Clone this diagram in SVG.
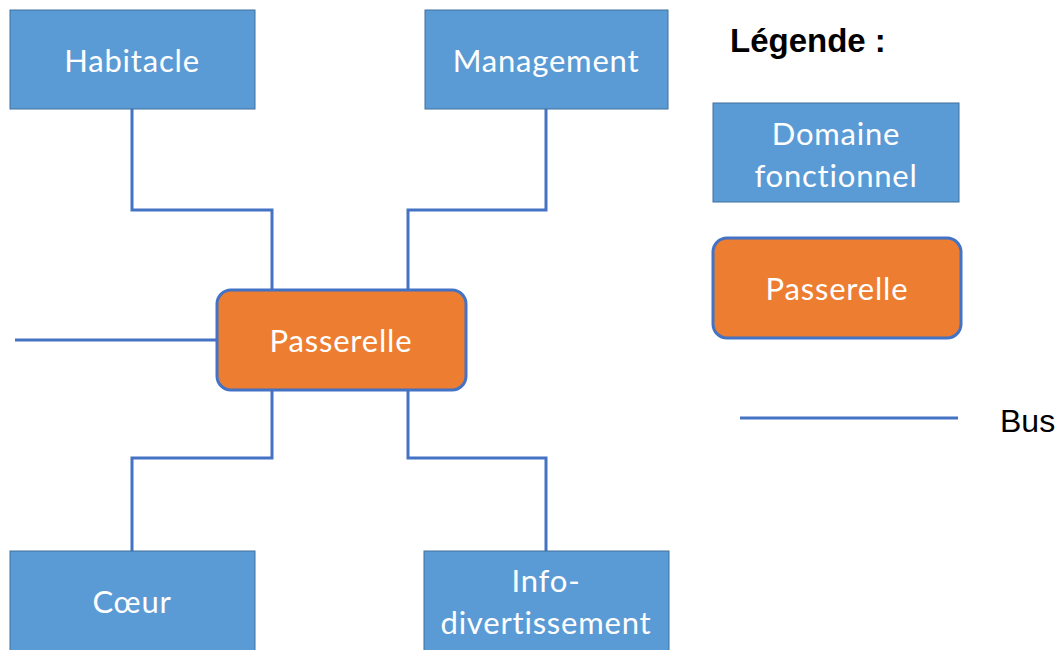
<svg xmlns="http://www.w3.org/2000/svg" width="1061" height="650" viewBox="0 0 1061 650">
<style>
.dom{fill:#5B9BD5;stroke:#41719C;stroke-width:1}
.gw{fill:#ED7D31;stroke:#4472C4;stroke-width:3}
.t{font-family:Lato,"Open Sans",sans-serif;font-size:31px;letter-spacing:0.8px;fill:#fff;text-anchor:middle}
.bus{fill:none;stroke:#4472C4;stroke-width:3}
.lg{font-family:"Liberation Sans",Arial,sans-serif;fill:#000}
</style>
<rect width="1061" height="650" fill="#fff"/>
<g id="connectors">
<path class="bus" d="M132,109 V210 H272 V290"/>
<path class="bus" d="M546,109 V210 H408 V290"/>
<path class="bus" d="M15,340 H217"/>
<path class="bus" d="M272,390 V458 H132 V551"/>
<path class="bus" d="M408,390 V458 H546 V551"/>
</g>
<g id="habitacle"><rect class="dom" x="10" y="10" width="245" height="99"/><text class="t" x="132" y="72">Habitacle</text></g>
<g id="management"><rect class="dom" x="425" y="10" width="243" height="99"/><text class="t" x="546" y="72">Management</text></g>
<g id="passerelle"><rect class="gw" x="217" y="290" width="249" height="100" rx="14"/><text class="t" x="341" y="352">Passerelle</text></g>
<g id="coeur"><rect class="dom" x="10" y="551" width="245" height="105"/><text class="t" x="132" y="613">Cœur</text></g>
<g id="info"><rect class="dom" x="424" y="551" width="245" height="105"/><text class="t" x="546" y="592">Info-</text><text class="t" x="546" y="634">divertissement</text></g>
<g id="legend">
<text class="lg" x="730" y="52" font-size="33" font-weight="bold">Légende :</text>
<g id="legend-domaine"><rect class="dom" x="713" y="103" width="246" height="99"/><text class="t" x="836" y="145">Domaine</text><text class="t" x="836" y="187">fonctionnel</text></g>
<g id="legend-passerelle"><rect class="gw" x="713" y="238" width="248" height="100" rx="14"/><text class="t" x="837" y="300">Passerelle</text></g>
<g id="legend-bus"><line class="bus" x1="740" y1="418" x2="958" y2="418"/><text class="lg" x="1000" y="432" font-size="32">Bus</text></g>
</g>
</svg>
